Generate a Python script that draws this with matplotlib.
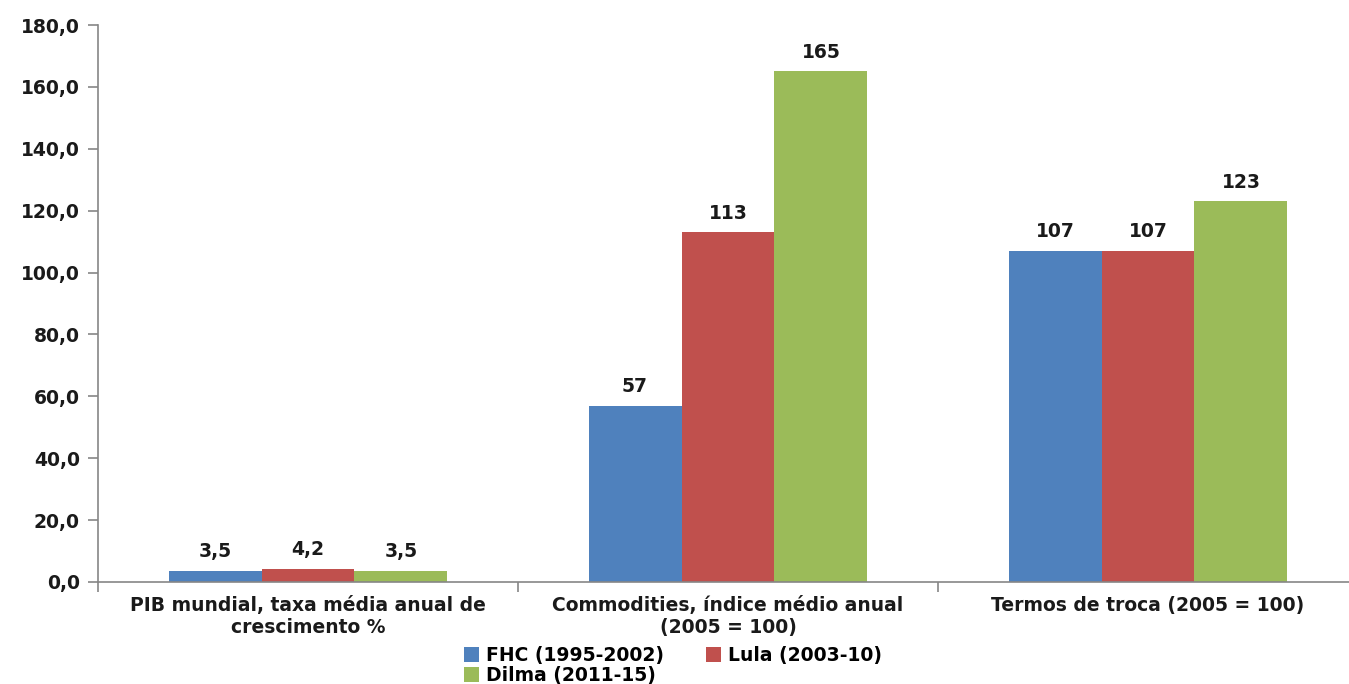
#!/usr/bin/env python
# -*- coding: utf-8 -*-

import numpy as np
import matplotlib
matplotlib.use("Agg")
import matplotlib.pyplot as plt

categories = ["PIB mundial, taxa média anual de\ncrescimento %",
              "Commodities, índice médio anual\n(2005 = 100)",
              "Termos de troca (2005 = 100)"]
series_names = ["FHC (1995-2002)", "Lula (2003-10)", "Dilma (2011-15)"]
fhc = [3.5, 57, 107]
lula = [4.2, 113, 107]
dilma = [3.5, 165, 123]
colors = ["#4F81BD", "#C0504D", "#9BBB59"]
yticks = [0, 20, 40, 60, 80, 100, 120, 140, 160, 180]


def fmt_label(v, group):
    # first group uses one decimal, the others are whole numbers
    if group == 0:
        return "{:.1f}".format(v).replace(".", ",")
    return "{:d}".format(int(round(v)))


def main():
    plt.rcParams["font.family"] = "DejaVu Sans"
    plt.rcParams["font.weight"] = "bold"
    fs = 13.5
    txt = "#1a1a1a"

    fig = plt.figure(figsize=(13.49, 6.84), dpi=100)
    ax = fig.add_axes([98 / 1349, 1 - 582 / 684, 1260 / 1349, 557 / 684])

    x = np.arange(len(categories))
    width = 0.2214
    gray = "#868686"

    handles = []
    for i, (vals, name, col) in enumerate(zip([fhc, lula, dilma], series_names, colors)):
        pos = x + (i - 1) * width
        bars = ax.bar(pos, vals, width, color=col, label=name, zorder=2)
        handles.append(bars)
        for j, b in enumerate(bars):
            ax.annotate(fmt_label(vals[j], j), (b.get_x() + b.get_width() / 2, b.get_height()),
                        xytext=(0, 7), textcoords="offset points", ha="center", va="bottom",
                        fontsize=fs, fontweight="bold", color=txt)

    ax.set_xlim(-0.5, 2.5)
    ax.set_ylim(0, 180)
    ax.set_yticks(yticks)
    ax.set_yticklabels(["{:.1f}".format(t).replace(".", ",") for t in yticks],
                       fontsize=fs, fontweight="bold", color=txt)

    ax.set_xticks(x)
    ax.set_xticklabels(categories, fontsize=fs, fontweight="bold", color=txt,
                       linespacing=1.2)
    ax.tick_params(axis="x", length=0, pad=10)
    ax.set_xticks([-0.5, 0.5, 1.5, 2.5], minor=True)
    ax.tick_params(axis="x", which="minor", length=7, color=gray, width=1.2)
    ax.tick_params(axis="y", length=7, color=gray, width=1.2, pad=6)

    for s in ["top", "right"]:
        ax.spines[s].set_visible(False)
    for s in ["left", "bottom"]:
        ax.spines[s].set_color(gray)
        ax.spines[s].set_linewidth(1.2)

    # legend fills column-wise, so reorder to get FHC, Lula on the first row
    order = [0, 2, 1]
    fig.legend([handles[k] for k in order], [series_names[k] for k in order],
               loc="upper left", bbox_to_anchor=(464 / 1349, 1 - 646 / 684), ncol=2,
               frameon=False, fontsize=fs, handlelength=0.8, handleheight=0.8,
               handletextpad=0.4, columnspacing=2.2, labelspacing=0.05,
               borderpad=0, borderaxespad=0)

    fig.savefig("out.png", dpi=100)
    return 0


if __name__ == "__main__":
    main()
